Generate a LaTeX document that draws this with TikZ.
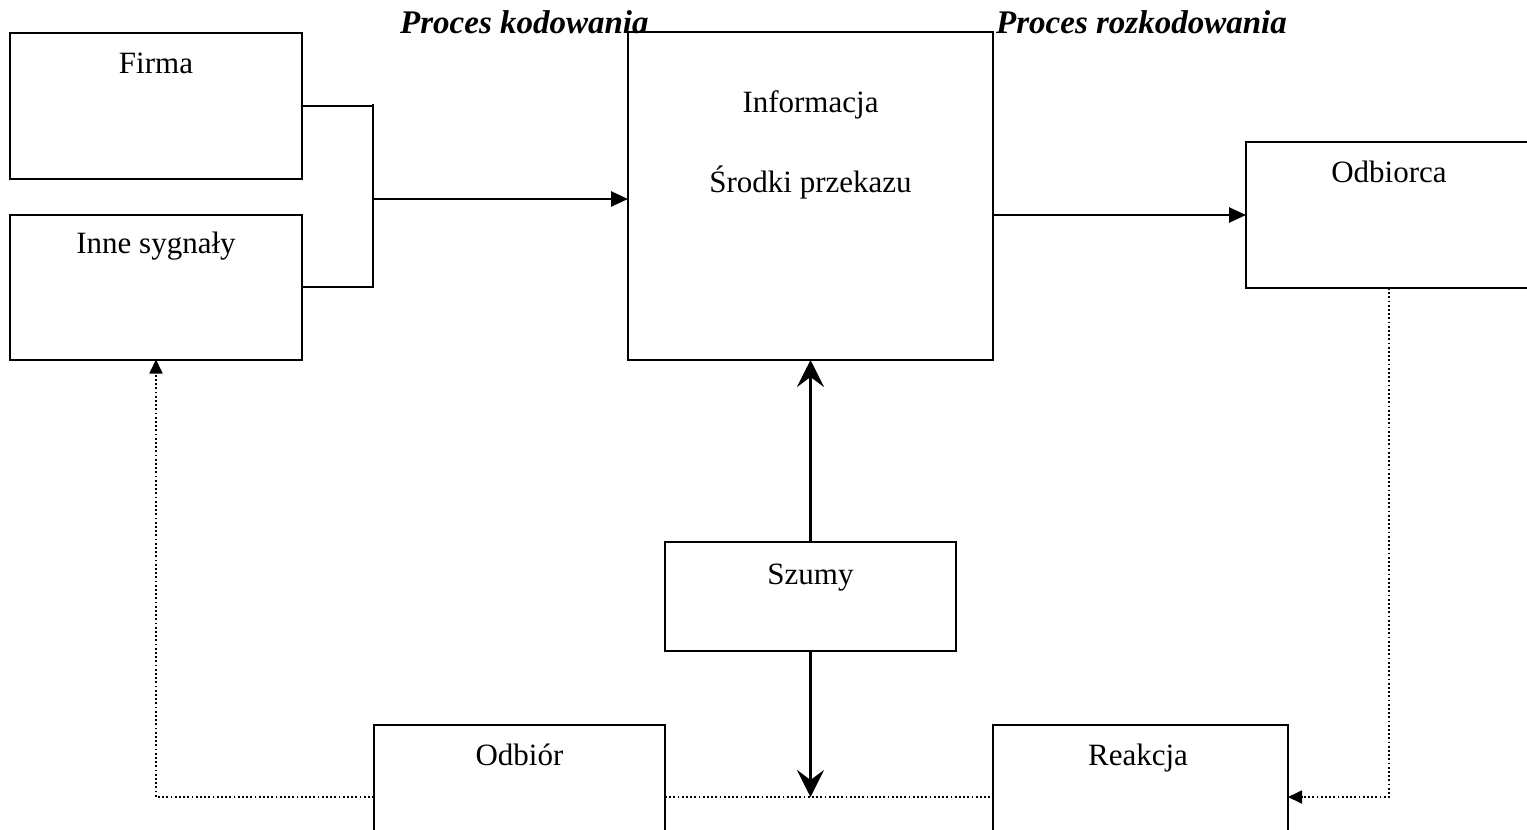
\documentclass[tikz,border=0pt]{standalone}
\usepackage{fontspec}
\setmainfont{Liberation Serif}
\usetikzlibrary{arrows.meta}
\begin{document}
\begin{tikzpicture}[x=1pt,y=-1pt,
  box/.style={draw,line width=2pt,rectangle,inner sep=0pt,outer sep=0pt},
  txt/.style={anchor=base,inner sep=0pt,font=\fontsize{31}{36}\selectfont},
  ttl/.style={anchor=base west,inner sep=0pt,font=\fontsize{33}{38}\selectfont\bfseries\itshape},
  arr/.style={line width=2.6pt,-{Triangle[length=17pt,width=15pt]}},
  sarr/.style={line width=2.6pt,-{Stealth[length=27pt,width=27pt,inset=10pt]}},
  dotl/.style={line width=1.8pt,dash pattern=on 1.8pt off 2.4pt},
  darr/.style={dotl,-{Triangle[length=14pt,width=13pt]}}]
\path[use as bounding box] (0,0) rectangle (1527,830);
% boxes
\node[box,minimum width=292pt,minimum height=146pt] (firma) at (156,106) {};
\node[box,minimum width=292pt,minimum height=145pt] (inne) at (156,287) {};
\node[box,minimum width=365pt,minimum height=328pt] (info) at (810.5,196) {};
\node[box,minimum width=300pt,minimum height=146pt] (odb) at (1396,215) {};
\node[box,minimum width=291pt,minimum height=109pt] (szumy) at (810.5,596.5) {};
\node[box,minimum width=291pt,minimum height=150pt] (odbior) at (519.5,800) {};
\node[box,minimum width=295pt,minimum height=150pt] (reakcja) at (1140.5,800) {};
% texts
\node[txt] (tfirma) at (156,73) {Firma};
\node[txt] (tinne) at (156,253) {Inne sygnały};
\node[txt] (tinfo) at (810.5,112) {Informacja};
\node[txt] (tsrodki) at (810.5,192) {Środki przekazu};
\node[txt] (todb) at (1389,182) {Odbiorca};
\node[txt] (tszumy) at (810.5,584) {Szumy};
\node[txt] (todbior) at (519.5,765) {Odbiór};
\node[txt] (treakcja) at (1138,765) {Reakcja};
\node[ttl] (tkod) at (400,33) {Proces kodowania};
\node[ttl] (trozkod) at (996,33) {Proces rozkodowania};
% connectors
\coordinate (br) at (373,199);
\coordinate (m) at (810.5,797);
\coordinate (rd) at (1389,288);
\draw[line width=2pt] (firma.east) -| (373,104);
\draw[line width=2pt] (inne.east) -| (br);
\draw[line width=2pt] (373,104) -- (br);
\draw[arr] (br) -- (br -| info.west);
\draw[arr] (info.east |- odb.west) -- (odb.west);
\draw[sarr] (szumy.north) -- (info.south);
\draw[sarr] (szumy.south) -- (m);
\draw[dotl] (odbior.east |- m) -- (reakcja.west |- m);
\draw[darr] (odbior.west |- m) -| (inne.south);
\draw[darr] (rd) |- (reakcja.east |- m);
\end{tikzpicture}
\end{document}
